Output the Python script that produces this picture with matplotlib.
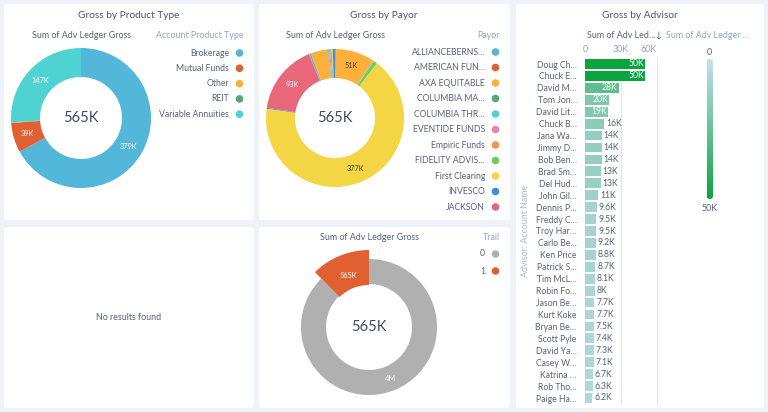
import numpy as np
import matplotlib
matplotlib.use("Agg")
import matplotlib.pyplot as plt
from matplotlib.patches import FancyBboxPatch
from matplotlib.colors import LinearSegmentedColormap, to_rgb

plt.rcParams['font.family'] = ['Lato', 'DejaVu Sans']

# ---- data ----
product_types = ["Brokerage", "Mutual Funds", "Other", "REIT", "Variable Annuities"]
product_gross = [378.6, 38.8, 0.5, 0.2, 146.9]          # K
product_colors = ["#52b7d8", "#e16032", "#ffb03b", "#54a77b", "#4fd2d2"]

payors = ["ALLIANCEBERNS…", "AMERICAN FUN…", "AXA EQUITABLE", "COLUMBIA MA…",
          "COLUMBIA THR…", "EVENTIDE FUNDS", "Empiric Funds", "FIDELITY ADVIS…",
          "First Clearing", "INVESCO", "JACKSON",
          "payor 12", "payor 13", "payor 14", "payor 15", "payor 16", "payor 17",
          "payor 18", "payor 19", "payor 20", "payor 21", "payor 22"]
payor_gross = [1.0, 0.5, 51, 0.3, 0.3, 0.3, 0.5, 5, 377, 1.2, 93,
               0.5, 2.0, 0.5, 22.0, 0.5, 1.5, 1.5, 1.9, 0.5, 1.0, 3.0]
palette = ["#52b7d8", "#e16032", "#ffb03b", "#54a77b", "#4fd2d2", "#e287b2",
           "#f8914f", "#6bd05b", "#f4d544", "#3c8fdf", "#e8677a", "#9c7fd6"]
payor_legend_n = 11

trail = ["0", "1"]
trail_gross = [4000, 565]
trail_colors = ["#b0b0b0", "#e16032"]

advisors = ["Doug Ch…", "Chuck E…", "David M…", "Tom Jon…", "David Lit…", "Chuck B…",
            "Jana Wa…", "Jimmy D…", "Bob Ben…", "Brad Sm…", "Del Hud…", "John Gil…",
            "Dennis P…", "Freddy C…", "Troy Har…", "Carlo Be…", "Ken Price", "Patrick S…",
            "Tim McL…", "Robin Fo…", "Jason Be…", "Kurt Koke", "Bryan Be…", "Scott Pyle",
            "David Ya…", "Casey W…", "Katrina …", "Rob Tho…", "Paige Ha…"]
advisor_gross = [50, 50, 28, 20, 19, 16, 14, 14, 14, 13, 13, 11, 9.6, 9.5, 9.5, 9.2,
                 8.8, 8.7, 8.1, 8, 7.7, 7.7, 7.5, 7.4, 7.3, 7.1, 6.7, 6.3, 6.2]
axis_ticks = [0, 30, 60]
axis_ticklabels = ["0", "30K", "60K"]

# ---- style ----
W, H = 768, 412
BG = "#eef3f8"
TITLE = "#4a566a"
LABEL = "#54627a"
LEGTITLE = "#8fa5c2"
DARK = "#3b4b5f"
FS_TITLE = 7.3
FS_SUB = 6.4
FS_LEG = 6.2


def fmt(v):
    if v >= 1000:
        return f"{v/1000:.0f}M"
    if v >= 10:
        return f"{v:.0f}K"
    s = f"{v:.1f}"
    return (s[:-2] if s.endswith(".0") else s) + "K"


def lum(c):
    r, g, b = to_rgb(c)
    return 0.299*r + 0.587*g + 0.114*b


fig = plt.figure(figsize=(W/100, H/100), dpi=100)
fig.patch.set_facecolor(BG)

bg = fig.add_axes([0, 0, 1, 1], zorder=0)
bg.set_xlim(0, W); bg.set_ylim(H, 0); bg.axis("off")
fg = fig.add_axes([0, 0, 1, 1], zorder=10)
fg.set_xlim(0, W); fg.set_ylim(H, 0); fg.axis("off")
fg.patch.set_alpha(0)


def px_axes(x0, y0, x1, y1, z=5):
    a = fig.add_axes([x0/W, 1-y1/H, (x1-x0)/W, (y1-y0)/H], zorder=z)
    a.patch.set_alpha(0)
    return a


panels = [(4, 4, 254, 220), (259, 4, 510, 220), (4, 227, 254, 408),
          (259, 227, 510, 408), (516, 4, 764, 408)]
for x0, y0, x1, y1 in panels:
    bg.add_patch(FancyBboxPatch((x0, y0), x1-x0, y1-y0, boxstyle="round,pad=0,rounding_size=3",
                                fc="white", ec="none"))


def donut(cx, cy, values, colors, r_out, r_in, thresh=0.05):
    ax = px_axes(cx-100, cy-100, cx+100, cy+100)
    wedges, _ = ax.pie(values, colors=colors, radius=r_out, startangle=90,
                       counterclock=False, wedgeprops=dict(width=r_out-r_in, linewidth=0))
    ax.set_xlim(-100, 100); ax.set_ylim(-100, 100); ax.axis("off")
    tot = sum(values)
    cum = 0
    for v, c in zip(values, colors):
        mid = (cum + v/2) / tot * 2*np.pi
        cum += v
        if v / tot < thresh:
            continue
        rm = (r_out + r_in) / 2
        fg.text(cx + rm*np.sin(mid), cy - rm*np.cos(mid), fmt(v), fontsize=5.3,
                color=("#3e3e3c" if lum(c) > 0.72 else "white"), ha="center", va="center")
    return ax, wedges


def legend(x_text, x_dot, y0, dy, names, colors, title, ytitle):
    fg.text(x_dot + 4, ytitle, title, color=LEGTITLE, fontsize=FS_SUB, ha="right", va="center")
    for i, (n, c) in enumerate(zip(names, colors)):
        y = y0 + i*dy
        fg.text(x_text, y, n, color=LABEL, fontsize=FS_LEG, ha="right", va="center")
        fg.scatter([x_dot], [y], s=30, color=c, edgecolors="none")


# ---- panel 1: product type ----
fg.text(129, 15.5, "Gross by Product Type", color=TITLE, fontsize=FS_TITLE, ha="center", va="center")
fg.text(81, 35, "Sum of Adv Ledger Gross", color=LABEL, fontsize=FS_SUB, ha="center", va="center")
donut(81, 118, product_gross, product_colors, 70, 41)
fg.text(81, 118, fmt(sum(product_gross)), color=DARK, fontsize=10.5, ha="center", va="center")
legend(229, 239.5, 53, 15.3, product_types, product_colors, "Account Product Type", 35)

# ---- panel 2: payor ----
payor_colors = [palette[i % len(palette)] for i in range(len(payors))]
fg.text(384, 15.5, "Gross by Payor", color=TITLE, fontsize=FS_TITLE, ha="center", va="center")
fg.text(335, 35, "Sum of Adv Ledger Gross", color=LABEL, fontsize=FS_SUB, ha="center", va="center")
donut(335, 118, payor_gross, payor_colors, 69, 40)
fg.text(335, 118, fmt(sum(payor_gross)), color=DARK, fontsize=10.5, ha="center", va="center")
legend(485, 495.5, 52, 15.5, payors[:payor_legend_n], payor_colors[:payor_legend_n], "Payor", 35)

# ---- panel 3: empty ----
fg.text(129, 317, "No results found", color=LABEL, fontsize=FS_SUB, ha="center", va="center")

# ---- panel 4: trail ----
fg.text(369, 237, "Sum of Adv Ledger Gross", color=LABEL, fontsize=FS_SUB, ha="center", va="center")
ax4, w4 = donut(369, 327, trail_gross, trail_colors, 68, 43)
w4[1].set_radius(77)
w4[1].set_width(35)
fg.text(369, 327, fmt(trail_gross[1]), color=DARK, fontsize=10.5, ha="center", va="center")
legend(485, 495.5, 254, 17, trail, trail_colors, "Trail", 237)

# ---- panel 5: advisor bars ----
cmap = LinearSegmentedColormap.from_list("gb", ["#c8def2", "#0ca43f"])
fg.text(640, 15.5, "Gross by Advisor", color=TITLE, fontsize=FS_TITLE, ha="center", va="center")
fg.text(587, 35, "Sum of Adv Led…↓", color=LABEL, fontsize=FS_SUB, ha="left", va="center")
fg.text(666, 35, "Sum of Adv Ledger …", color=LEGTITLE, fontsize=FS_SUB, ha="left", va="center")

n = len(advisors)
row = (398 - 64) / (n - 1)
axb = px_axes(585, 64 - row/2, 657, 398 + row/2)
ypos = np.arange(n)
vmax = max(advisor_gross)
axb.barh(ypos, advisor_gross, height=0.82, color=[cmap(v / vmax) for v in advisor_gross])
axb.set_ylim(n - 0.5, -0.5)
axb.set_xlim(0, 60)
axb.set_yticks(ypos)
axb.set_yticklabels(advisors, fontsize=FS_LEG, color=LABEL)
axb.tick_params(axis="y", length=0, pad=6)
axb.xaxis.tick_top()
axb.set_xticks(axis_ticks)
axb.set_xticklabels(axis_ticklabels, fontsize=FS_SUB, color=LEGTITLE)
axb.tick_params(axis="x", length=0, pad=3)
axb.get_xticklabels()[-1].set_ha("right")
for s in axb.spines.values():
    s.set_visible(False)
for xv in axis_ticks:
    axb.axvline(xv, color="#e3e7ec", lw=0.8, zorder=0, clip_on=False)
for y, v in zip(ypos, advisor_gross):
    if v >= 19:
        axb.text(v - 1, y, fmt(v), color="white", fontsize=6.2, ha="right", va="center")
    else:
        axb.text(v + 1.5, y, fmt(v), color=LABEL, fontsize=6.2, ha="left", va="center")
axb.set_ylabel("Advisor: Account Name", color="#a7bad0", fontsize=FS_SUB)
axb.yaxis.set_label_coords(-0.77, 0.5)

# colour legend
grad = np.linspace(0, 1, 200).reshape(-1, 1)
im = fg.imshow(grad, cmap=cmap, extent=(706.5, 713, 199, 59), aspect="auto", zorder=3)
clip = FancyBboxPatch((706.5, 59), 6.5, 140, boxstyle="round,pad=0,rounding_size=3.2",
                      fc="none", ec="none", transform=fg.transData)
fg.add_patch(clip)
im.set_clip_path(clip)
fg.set_xlim(0, W); fg.set_ylim(H, 0)
fg.text(709.7, 52, "0", color=LABEL, fontsize=FS_SUB, ha="center", va="center")
fg.text(709.7, 208, fmt(vmax), color=LABEL, fontsize=FS_SUB, ha="center", va="center")

fig.savefig("out.png", dpi=100, facecolor=fig.get_facecolor())
